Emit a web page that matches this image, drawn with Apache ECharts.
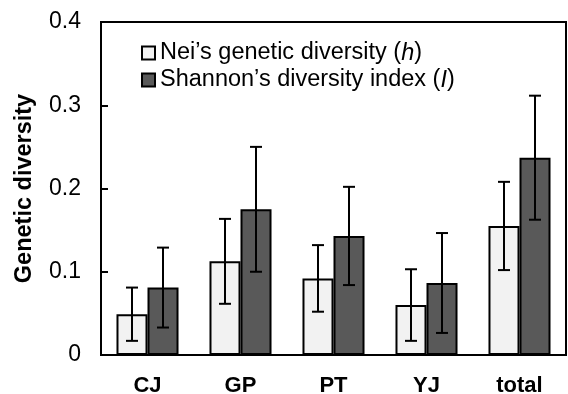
<!DOCTYPE html>
<html>
<head>
<meta charset="utf-8">
<script src="https://cdn.jsdelivr.net/npm/echarts@6/dist/echarts.min.js"></script>
<style>
  html, body { margin: 0; padding: 0; background: #fff; }
  #main { width: 568px; height: 394px; }
</style>
</head>
<body>
<div id="main"></div>
<script>
var categories = ['CJ', 'GP', 'PT', 'YJ', 'total'];
var neiH = [0.049, 0.1125, 0.092, 0.060, 0.155];
var neiErr = [0.032, 0.051, 0.040, 0.043, 0.053];
var shanI = [0.081, 0.175, 0.143, 0.0865, 0.237];
var shanErr = [0.048, 0.075, 0.059, 0.060, 0.0745];
var yTicks = [0, 0.1, 0.2, 0.3, 0.4];

var font = '"Liberation Sans", Arial, sans-serif';

// error bar data: [category index, value, error, side]  side -1 = left bar, 1 = right bar
var errData = [];
categories.forEach(function (c, i) {
    errData.push([i, neiH[i], neiErr[i], -1]);
    errData.push([i, shanI[i], shanErr[i], 1]);
});

function renderErr(params, api) {
    var idx = api.value(0);
    var val = api.value(1);
    var err = api.value(2);
    var side = api.value(3);
    var band = api.size([1, 0])[0];
    var off = side * band / 6;
    var hi = api.coord([idx, val + err]);
    var lo = api.coord([idx, val - err]);
    var x = hi[0] + off;
    var cap = 6;
    var st = { stroke: '#000', lineWidth: 2 };
    return {
        type: 'group',
        children: [
            { type: 'line', shape: { x1: x, y1: hi[1], x2: x, y2: lo[1] }, style: st },
            { type: 'line', shape: { x1: x - cap, y1: hi[1], x2: x + cap, y2: hi[1] }, style: st },
            { type: 'line', shape: { x1: x - cap, y1: lo[1], x2: x + cap, y2: lo[1] }, style: st }
        ]
    };
}

var chart = echarts.init(document.getElementById('main'));
chart.setOption({
    animation: false,
    textStyle: { fontFamily: font },
    grid: {
        left: 101, top: 22, right: 2, bottom: 39,
        outerBoundsMode: 'none',
        containLabel: false,
        show: true, borderColor: '#000', borderWidth: 2
    },
    legend: {
        orient: 'vertical',
        left: 136, top: 36,
        itemWidth: 13, itemHeight: 13,
        itemGap: 3,
        icon: 'rect',
        data: ['Nei', 'Shannon'],
        formatter: function (name) {
            if (name === 'Nei') return '{n|Nei\u2019s genetic diversity (}{i|h}{n|)}';
            return '{n|Shannon\u2019s diversity index (}{i|I}{n|)}';
        },
        textStyle: {
            fontFamily: font,
            rich: {
                n: { fontSize: 23.5, color: '#000', fontFamily: font, lineHeight: 24 },
                i: { fontSize: 23.5, color: '#000', fontFamily: font, fontStyle: 'italic', lineHeight: 24 }
            }
        }
    },
    xAxis: {
        type: 'category',
        data: categories,
        axisLine: { lineStyle: { color: '#000', width: 2 } },
        axisTick: { show: false },
        axisLabel: { color: '#000', fontSize: 22, fontWeight: 'bold', margin: 20, fontFamily: font }
    },
    yAxis: {
        type: 'value',
        min: yTicks[0], max: yTicks[yTicks.length - 1], interval: 0.1,
        name: 'Genetic diversity',
        nameLocation: 'middle',
        nameGap: 64,
        nameTextStyle: { color: '#000', fontSize: 23.5, fontWeight: 'bold', fontFamily: font },
        axisLine: { show: true, lineStyle: { color: '#000', width: 2 } },
        axisTick: { show: true, inside: true, length: 7, lineStyle: { color: '#000', width: 2 } },
        splitLine: { show: false },
        axisLabel: { color: '#000', fontSize: 23, margin: 20, fontFamily: font }
    },
    series: [
        {
            name: 'Nei', type: 'bar', data: neiH,
            barGap: '0%', barCategoryGap: '33.3%',
            itemStyle: { color: '#f2f2f2', borderColor: '#000', borderWidth: 2 }
        },
        {
            name: 'Shannon', type: 'bar', data: shanI,
            barGap: '0%', barCategoryGap: '33.3%',
            itemStyle: { color: '#595959', borderColor: '#000', borderWidth: 2 }
        },
        {
            type: 'custom', data: errData, renderItem: renderErr, z: 10,
            silent: true
        }
    ]
});
</script>
</body>
</html>
